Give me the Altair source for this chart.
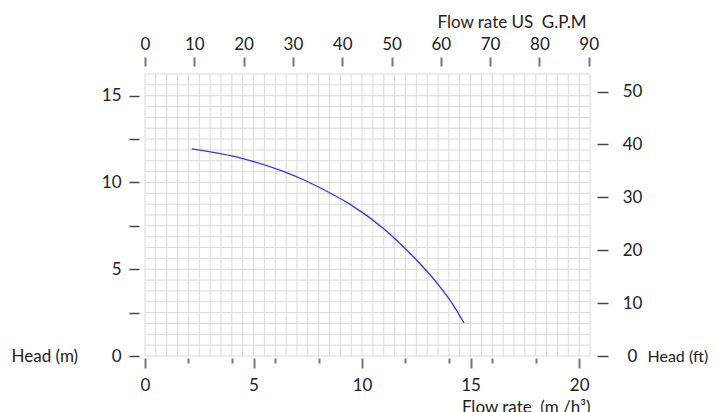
import altair as alt
import pandas as pd

# Pump curve (flow in m3/h, head in m)
flow_m3h = [2.15, 4.5, 6.4, 7.4, 8.7, 9.4, 11.0, 11.9, 12.8, 13.5, 14.0, 14.7]
head_m = [11.93, 11.38, 10.62, 10.10, 9.28, 8.78, 7.33, 6.30, 5.14, 4.13, 3.30, 1.90]

# axis ticks
flow_ticks = [0, 2, 4, 5, 6, 8, 10, 12, 14, 15, 16, 18, 20]
head_ticks = [0, 2.5, 5, 7.5, 10, 12.5, 15]
gpm_ticks = [0, 10, 20, 30, 40, 50, 60, 70, 80, 90]
ft_ticks = [0, 10, 20, 30, 40, 50]

# grid line positions
grid_flow = [i * 0.5 for i in range(42)]
grid_head = [i * 0.625 for i in range(27)]

X_MAX = 20.5
Y_MAX = 16.25
M3H_TO_GPM = 4.4029
M_TO_FT = 1 / 0.3048

W, H = 445, 282
FONT = "Lato"
TXT = "#222222"
GRID = "#d9d9d9"


def xs():
    return alt.Scale(domain=[0, X_MAX], nice=False, zero=False)


def ys():
    return alt.Scale(domain=[0, Y_MAX], nice=False, zero=False)


vgrid = alt.Chart(pd.DataFrame({"gx": grid_flow})).mark_rule(
    color=GRID, strokeWidth=1
).encode(x=alt.X("gx:Q", scale=xs(), axis=None))

hgrid = alt.Chart(pd.DataFrame({"gy": grid_head})).mark_rule(
    color=GRID, strokeWidth=1
).encode(y=alt.Y("gy:Q", scale=ys(), axis=None))

curve_df = pd.DataFrame({"q": flow_m3h, "h": head_m})
line = alt.Chart(curve_df).mark_line(
    color="#3333f2", strokeWidth=1.3, interpolate="monotone"
).encode(
    x=alt.X(
        "q:Q",
        scale=xs(),
        axis=alt.Axis(
            orient="bottom",
            values=flow_ticks,
            domain=False,
            grid=False,
            offset=2,
            tickSize={"condition": {"test": "datum.value % 5 === 0", "value": 10}, "value": 5},
            tickWidth=2,
            tickColor="#777777",
            labelExpr="datum.value % 5 === 0 ? datum.label : ''",
            labelOverlap=False,
            labelFlush=False,
            labelPadding=9,
            labelFontSize=17,
            labelColor=TXT,
            title="Flow rate\u00a0\u00a0(m /h³)",
            titleAlign="right",
            titleBaseline="top",
            titleX=W,
            titleY=41,
            titleFontSize=17,
            titleFontWeight="normal",
            titleColor=TXT,
        ),
    ),
    y=alt.Y(
        "h:Q",
        scale=ys(),
        axis=alt.Axis(
            orient="left",
            values=head_ticks,
            domain=False,
            grid=False,
            offset=6,
            tickSize=10,
            tickWidth=1.5,
            tickColor="#444444",
            labelExpr="datum.value % 5 === 0 ? datum.label : ''",
            labelOverlap=False,
            labelFlush=False,
            labelPadding=8,
            labelFontSize=17,
            labelColor=TXT,
            title="Head (m)",
            titleAngle=0,
            titleAlign="left",
            titleBaseline="middle",
            titleX=-128,
            titleY=H,
            titleFontSize=17,
            titleFontWeight="normal",
            titleColor=TXT,
        ),
    ),
)

title_df = pd.DataFrame({"t": ["RENDIMIENTO"]})
title = alt.Chart(title_df).mark_text(
    font=FONT, fontSize=33, fontWeight="bold", color="#2a45a3", align="left", baseline="alphabetic"
).encode(x=alt.value(-127), y=alt.value(-70), text="t:N")

sec_df = pd.DataFrame({"gpm": [0, 90], "ft": [0, 50]})
sec = alt.Chart(sec_df).mark_point(opacity=0).encode(
    x=alt.X(
        "gpm:Q",
        scale=alt.Scale(domain=[0, X_MAX * M3H_TO_GPM], nice=False, zero=False),
        axis=alt.Axis(
            orient="top",
            values=gpm_ticks,
            domain=False,
            grid=False,
            offset=8,
            tickSize=9,
            tickWidth=2,
            tickColor="#777777",
            labelOverlap=False,
            labelFlush=False,
            labelPadding=4,
            labelFontSize=17,
            labelColor=TXT,
            title="Flow rate US\u2002G.P.M",
            titleAlign="right",
            titleBaseline="top",
            titleX=W - 4,
            titleY=-52,
            titleFontSize=17,
            titleFontWeight="normal",
            titleColor=TXT,
        ),
    ),
    y=alt.Y(
        "ft:Q",
        scale=alt.Scale(domain=[0, Y_MAX * M_TO_FT], nice=False, zero=False),
        axis=alt.Axis(
            orient="right",
            values=ft_ticks,
            domain=False,
            grid=False,
            offset=7,
            tickSize=11,
            tickWidth=1.5,
            tickColor="#444444",
            labelOverlap=False,
            labelFlush=False,
            labelAlign="center",
            labelPadding=24,
            labelFontSize=17,
            labelColor=TXT,
            title="Head (ft)",
            titleAngle=0,
            titleAlign="left",
            titleBaseline="middle",
            titleX=50,
            titleY=H,
            titleFontSize=16,
            titleFontWeight="normal",
            titleColor=TXT,
        ),
    ),
)

chart = alt.layer(vgrid, hgrid, line, title, sec).resolve_scale(
    x="independent", y="independent"
).properties(
    width=W,
    height=H,
    autosize=alt.AutoSizeParams(type="none"),
    padding={"left": 137, "top": 66, "right": 120, "bottom": 58},
).configure_view(stroke=None).configure_axis(
    labelFont=FONT, titleFont=FONT
)

chart.save("out.html", embed_options={"renderer": "svg", "actions": False})
